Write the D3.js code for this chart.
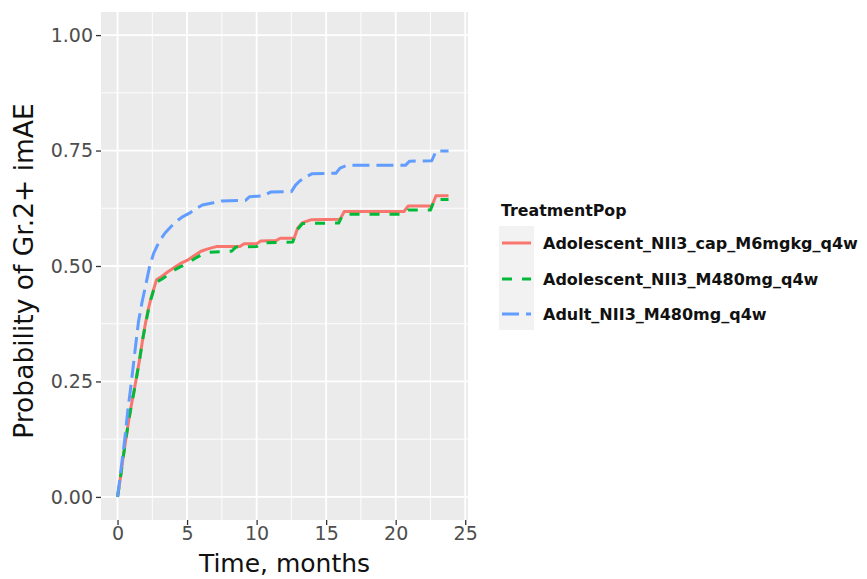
<!DOCTYPE html>
<html><head><meta charset="utf-8">
<script src="https://cdn.jsdelivr.net/npm/d3@7"></script>
<style>body{margin:0;background:#fff}svg{display:block}</style>
</head><body>
<svg id="c" width="867" height="579"></svg>
<script>
const seriesNames = ["Adolescent_NII3_cap_M6mgkg_q4w","Adolescent_NII3_M480mg_q4w","Adult_NII3_M480mg_q4w"];
const seriesColors = ["#F8766D","#00BA38","#619CFF"];
const redTimes  = [0,0.2,0.4,0.6,0.8,1.0,1.2,1.4,1.6,1.8,2.0,2.2,2.4,2.6,2.8,3.2,3.6,4.0,4.5,5.0,5.5,6.0,6.5,7.1,8.8,9.1,10.0,10.3,11.4,11.7,12.7,12.95,13.3,13.9,16.0,16.3,20.6,20.9,22.6,22.9,23.8];
const redValues = [0,0.04,0.085,0.125,0.165,0.2,0.232,0.265,0.3,0.34,0.375,0.405,0.43,0.45,0.47,0.478,0.487,0.495,0.505,0.512,0.522,0.532,0.537,0.542,0.542,0.548,0.548,0.554,0.555,0.56,0.56,0.582,0.594,0.6,0.601,0.618,0.618,0.63,0.63,0.652,0.652];
const greenTimes  = [0,0.2,0.4,0.6,0.8,1.0,1.2,1.4,1.6,1.8,2.0,2.2,2.4,2.6,2.8,3.2,3.6,4.0,4.5,5.0,5.5,6.0,6.6,8.2,8.5,10.0,10.3,12.6,12.9,13.3,15.9,16.2,20.6,20.9,22.5,22.8,23.8];
const greenValues = [0,0.04,0.085,0.125,0.165,0.2,0.23,0.265,0.3,0.34,0.372,0.402,0.428,0.448,0.465,0.472,0.48,0.49,0.498,0.505,0.515,0.524,0.53,0.532,0.541,0.542,0.55,0.552,0.578,0.592,0.593,0.612,0.612,0.621,0.621,0.644,0.644];
const blueTimes  = [0,0.25,0.5,0.75,1.0,1.25,1.5,1.75,2.0,2.3,2.6,3.0,3.4,3.8,4.2,4.7,5.2,5.7,6.1,6.9,7.5,9.2,9.5,10.5,11.0,12.5,12.8,13.1,13.5,14.0,15.7,16.0,16.5,20.7,21.0,22.6,22.9,23.8];
const blueValues = [0,0.06,0.12,0.19,0.25,0.315,0.378,0.42,0.455,0.498,0.528,0.553,0.571,0.584,0.596,0.607,0.615,0.625,0.632,0.637,0.641,0.642,0.65,0.652,0.66,0.661,0.675,0.684,0.692,0.7,0.701,0.712,0.718,0.718,0.727,0.728,0.749,0.749];
const xTicks = [0,5,10,15,20,25];
const yTicks = [0,0.25,0.5,0.75,1.0];
const yTickLabels = ["0.00","0.25","0.50","0.75","1.00"];
const xMinor = [2.5,7.5,12.5,17.5,22.5];
const yMinor = [0.125,0.375,0.625,0.875];

const svg = d3.select("#c");
const P = {l:101, r:468, t:12, b:520};
const x = d3.scaleLinear().domain([-1.19, 25.2]).range([P.l, P.r]);
const y = d3.scaleLinear().domain([-0.05, 1.05]).range([P.b, P.t]);

svg.append("rect").attr("x",P.l).attr("y",P.t).attr("width",P.r-P.l).attr("height",P.b-P.t).attr("fill","#EBEBEB");
const g = svg.append("g");
xMinor.forEach(v=>g.append("line").attr("x1",x(v)).attr("x2",x(v)).attr("y1",P.t).attr("y2",P.b).attr("stroke","#fff").attr("stroke-width",0.9));
yMinor.forEach(v=>g.append("line").attr("y1",y(v)).attr("y2",y(v)).attr("x1",P.l).attr("x2",P.r).attr("stroke","#fff").attr("stroke-width",0.9));
xTicks.forEach(v=>g.append("line").attr("x1",x(v)).attr("x2",x(v)).attr("y1",P.t).attr("y2",P.b).attr("stroke","#fff").attr("stroke-width",1.8));
yTicks.forEach(v=>g.append("line").attr("y1",y(v)).attr("y2",y(v)).attr("x1",P.l).attr("x2",P.r).attr("stroke","#fff").attr("stroke-width",1.8));

const FONT = "DejaVu Sans";
const xAx = svg.append("g").attr("transform",`translate(0,${P.b})`).call(d3.axisBottom(x).tickValues(xTicks).tickSize(5).tickPadding(2).tickFormat(d3.format("d")));
const yAx = svg.append("g").attr("transform",`translate(${P.l},0)`).call(d3.axisLeft(y).tickValues(yTicks).tickSize(5).tickPadding(3).tickFormat((d,i)=>yTickLabels[i]));
[xAx,yAx].forEach(a=>{a.select(".domain").remove();a.selectAll(".tick line").attr("stroke","#333").attr("stroke-width",1.3);
  a.selectAll("text").attr("fill","#4D4D4D").style("font-family",FONT).style("font-size","19px");});

const series = [[redTimes,redValues],[greenTimes,greenValues],[blueTimes,blueValues]];
const dashes = [null,"10,10","17,7"];
const line = d3.line().x(d=>x(d[0])).y(d=>y(d[1]));
series.forEach((s,i)=>{
  const pts = s[0].map((t,j)=>[t,s[1][j]]);
  svg.append("path").datum(pts).attr("d",line).attr("fill","none").attr("stroke",seriesColors[i]).attr("stroke-width",3).attr("stroke-dasharray",dashes[i]).attr("stroke-linejoin","round");
});

svg.append("text").attr("x",(P.l+P.r)/2).attr("y",572).attr("text-anchor","middle").style("font-family",FONT).style("font-size","25px").attr("fill","#111").text("Time, months");
svg.append("text").attr("transform",`translate(33,${(P.t+P.b)/2+5}) rotate(-90)`).attr("text-anchor","middle").style("font-family",FONT).style("font-size","26.5px").attr("fill","#111").text("Probability of Gr.2+ imAE");

const L = svg.append("g");
L.append("text").attr("x",501).attr("y",216).style("font-family",FONT).style("font-weight","bold").style("font-size","15.8px").attr("fill","#111").text("TreatmentPop");
L.append("rect").attr("x",499).attr("y",226).attr("width",35).attr("height",104).attr("fill","#F2F2F2");
const ly = [243,279,314];
seriesNames.forEach((n,i)=>{
  L.append("line").attr("x1",502).attr("x2",531).attr("y1",ly[i]).attr("y2",ly[i]).attr("stroke",seriesColors[i]).attr("stroke-width",3).attr("stroke-dasharray",dashes[i]);
  L.append("text").attr("x",543).attr("y",ly[i]+6).style("font-family",FONT).style("font-weight","bold").style("font-size","16px").attr("fill","#111").text(n);
});
</script>
</body></html>
